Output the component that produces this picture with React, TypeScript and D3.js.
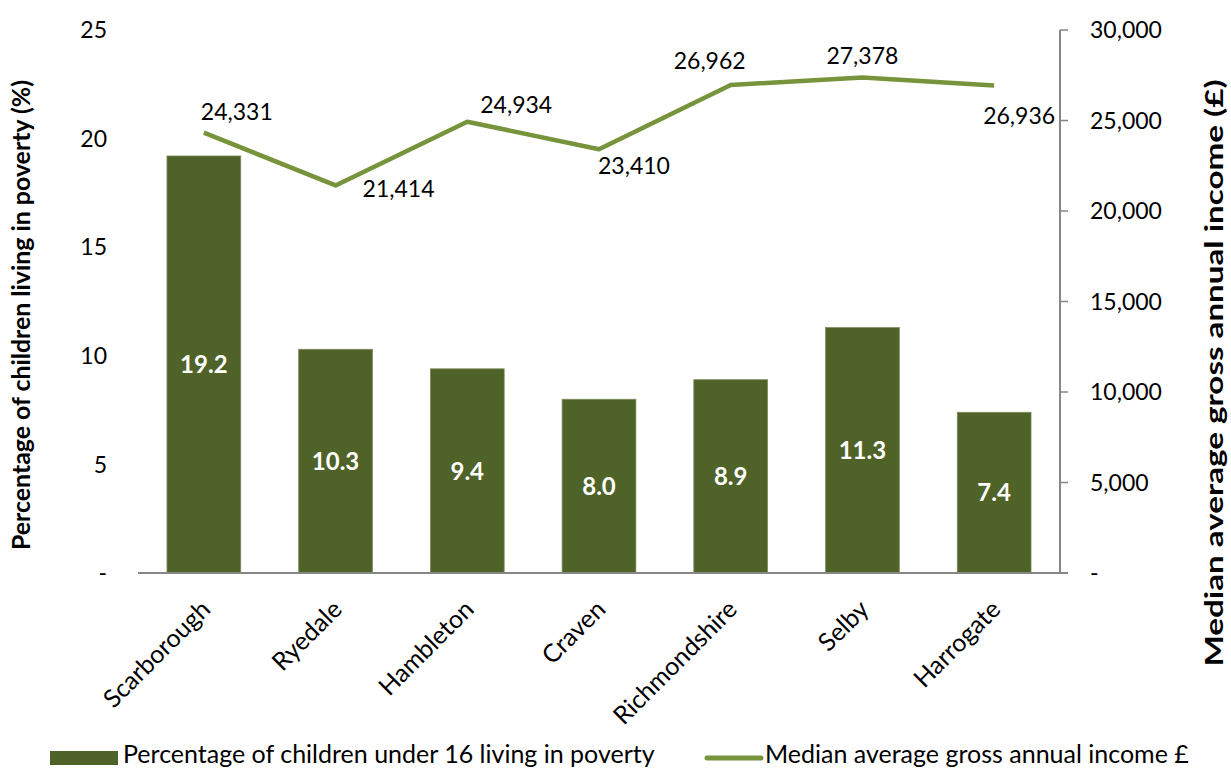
import React from "react";
import * as d3 from "d3";

const categories = ["Scarborough", "Ryedale", "Hambleton", "Craven", "Richmondshire", "Selby", "Harrogate"];
const povertyPct = [19.2, 10.3, 9.4, 8.0, 8.9, 11.3, 7.4];
const medianIncome = [24331, 21414, 24934, 23410, 26962, 27378, 26936];
const leftTicks = [0, 5, 10, 15, 20, 25];
const rightTicks = [0, 5000, 10000, 15000, 20000, 25000, 30000];
const seriesNames = ["Percentage of children under 16 living in poverty", "Median average gross annual income £"];
const axisTitles = ["Percentage of children living in poverty (%)", "Median average gross annual income (£)"];

// label placement offsets (text left edge dx, vertical centre dy) relative to each line point
const incomeLabelOffsets: [number, number][] = [
  [-3, -21], [27, 3], [13, -17], [-1, 16], [-57, -24], [-36, -22], [-11, 30],
];

const W = 1231, H = 769;
const M = { left: 138, right: 1060, top: 30, bottom: 573 };
const FONT = "Lato, 'Noto Sans', sans-serif";
const BAR = "#4F6228";
const LINE = "#77933C";
const AXIS = "#868686";

export default function App() {
  const x = d3.scaleBand<string>().domain(categories).range([M.left, M.right]).paddingInner(0.44).paddingOuter(0.22);
  const yL = d3.scaleLinear().domain([0, 25]).range([M.bottom, M.top]);
  const yR = d3.scaleLinear().domain([0, 30000]).range([M.bottom, M.top]);
  const cx = (c: string) => (x(c) as number) + x.bandwidth() / 2;
  const fmt = d3.format(",");
  const line = d3.line<number>().x((_, i) => cx(categories[i])).y((d) => yR(d));

  return (
    <svg width={W} height={H} style={{ position: "absolute", left: 0, top: 0, background: "#fff" }} fontFamily={FONT}>
      {/* bars */}
      {povertyPct.map((v, i) => (
        <rect key={categories[i]} x={x(categories[i])} y={yL(v)} width={x.bandwidth()} height={yL(0) - yL(v)} fill={BAR} stroke="#7d8c5e" strokeWidth={0.8} />
      ))}
      {povertyPct.map((v, i) => (
        <text key={"bl" + i} x={cx(categories[i])} y={(yL(v) + yL(0)) / 2} dy="0.36em" textAnchor="middle" fill="#fff" fontWeight="bold" fontSize={24}>
          {v.toFixed(1)}
        </text>
      ))}
      {/* baseline */}
      <line x1={M.left} x2={M.right + 8} y1={yL(0)} y2={yL(0)} stroke={AXIS} strokeWidth={2} />
      {/* right axis */}
      <line x1={M.right} x2={M.right} y1={M.top} y2={M.bottom} stroke={AXIS} strokeWidth={2} />
      {rightTicks.map((t) => (
        <g key={"rt" + t}>
          <line x1={M.right} x2={M.right + 8} y1={yR(t)} y2={yR(t)} stroke={AXIS} strokeWidth={1.5} />
          <text x={1090} y={yR(t)} dy="0.36em" fontSize={23} fill="#000">{t === 0 ? "-" : fmt(t)}</text>
        </g>
      ))}
      {leftTicks.map((t) => (
        <text key={"lt" + t} x={107} y={yL(t)} dy="0.36em" textAnchor="end" fontSize={23} fill="#000">{t === 0 ? "-" : t}</text>
      ))}
      {/* line */}
      <path d={line(medianIncome) || ""} fill="none" stroke={LINE} strokeWidth={4.5} strokeLinejoin="round" />
      {medianIncome.map((v, i) => (
        <text key={"il" + i} x={cx(categories[i]) + incomeLabelOffsets[i][0]} y={yR(v) + incomeLabelOffsets[i][1]} dy="0.36em" fontSize={23} fill="#000">
          {fmt(v)}
        </text>
      ))}
      {/* category labels */}
      {categories.map((c) => (
        <text key={"cl" + c} transform={`translate(${cx(c) + 8},${611}) rotate(-45)`} textAnchor="end" fontSize={25} fill="#000">{c}</text>
      ))}
      {/* axis titles */}
      <text transform={`translate(30,315) rotate(-90)`} textAnchor="middle" fontWeight="bold" fontSize={24} textLength={470} lengthAdjust="spacingAndGlyphs" fill="#000">{axisTitles[0]}</text>
      <text transform={`translate(1223,373) rotate(-90)`} textAnchor="middle" fontWeight="bold" fontSize={24} textLength={587} lengthAdjust="spacingAndGlyphs" fill="#000">{axisTitles[1]}</text>
      {/* legend */}
      <rect x={50} y={751} width={68} height={14} fill={BAR} />
      <text x={123} y={763} fontSize={25} fill="#000">{seriesNames[0]}</text>
      <line x1={707} x2={761} y1={758} y2={758} stroke={LINE} strokeWidth={5} strokeLinecap="round" />
      <text x={765} y={763} fontSize={25} fill="#000">{seriesNames[1]}</text>
    </svg>
  );
}
